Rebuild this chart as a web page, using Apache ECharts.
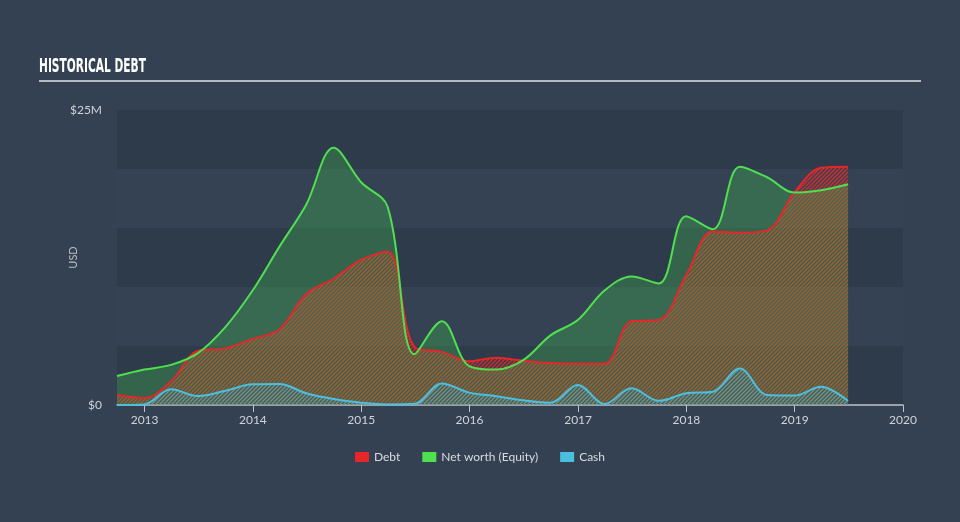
<!DOCTYPE html>
<html>
<head>
<meta charset="utf-8">
<script src="https://cdn.jsdelivr.net/npm/echarts@6/dist/echarts.min.js"></script>
<style>
html,body{margin:0;padding:0;background:#344152;}
#chart{width:960px;height:522px;}
</style>
</head>
<body>
<div id="chart"></div>
<script>
const dates = ['2012-09-30','2012-12-31','2013-03-31','2013-06-30','2013-09-30','2013-12-31',
  '2014-03-31','2014-06-30','2014-09-30','2014-12-31','2015-03-31','2015-06-30','2015-09-30','2015-12-31',
  '2016-03-31','2016-06-30','2016-09-30','2016-12-31','2017-03-31','2017-06-30','2017-09-30','2017-12-31',
  '2018-03-31','2018-06-30','2018-09-30','2018-12-31','2019-03-31','2019-06-30'];
const debt = [0.85,0.6,2.0,4.6,4.8,5.6,6.4,9.4,10.7,12.3,13.0,4.9,4.5,3.7,4.0,3.75,3.55,3.5,3.5,7.1,7.2,11.0,14.7,14.6,14.8,18.0,20.1,20.2];
const equity = [2.45,3.0,3.4,4.4,6.6,9.7,13.4,17.0,21.8,18.9,16.8,4.3,7.1,3.3,3.0,3.8,5.9,7.2,9.7,10.9,10.3,16.0,14.9,20.2,19.3,18.0,18.2,18.7];
const cash = [0.0,0.05,1.33,0.76,1.2,1.75,1.78,0.99,0.5,0.2,0.05,0.1,1.83,1.05,0.75,0.4,0.2,1.7,0.08,1.41,0.35,0.99,1.13,3.1,0.85,0.8,1.55,0.34];
const seriesNames = ['Debt','Net worth (Equity)','Cash'];
const yTickLabels = {0:'$0', 25:'$25M'};

function hatch(color, size, lw) {
  const c = document.createElement('canvas');
  c.width = size; c.height = size;
  const g = c.getContext('2d');
  g.strokeStyle = color; g.lineWidth = lw;
  g.beginPath();
  g.moveTo(0, size); g.lineTo(size, 0);
  g.moveTo(-size/2, size/2); g.lineTo(size/2, -size/2);
  g.moveTo(size/2, size*1.5); g.lineTo(size*1.5, size/2);
  g.stroke();
  return c;
}
const pair = arr => dates.map((d,i)=>[d, arr[i]]);
const YEAR = 365*24*3600*1000;

const chart = echarts.init(document.getElementById('chart'), null, {renderer:'canvas'});
chart.setOption({
  backgroundColor: '#344152',
  animation: false,
  graphic: [
    {type:'line', shape:{x1:39,y1:81,x2:921,y2:81}, style:{stroke:'#b4bac2', lineWidth:2}},
    {type:'text', x:39, y:58, scaleX:0.56, scaleY:1,
      style:{text:'HISTORICAL DEBT', fill:'#ffffff', fontSize:19, fontWeight:'bold',
        fontFamily:'"DejaVu Sans", sans-serif', textVerticalAlign:'top'}}
  ],
  grid: {left:117, right:57, top:110, bottom:117},
  legend: {
    bottom: 54, left: 'center', icon: 'rect', itemWidth: 14, itemHeight: 10, itemGap: 22,
    data: seriesNames,
    textStyle: {color:'#d8dce1', fontSize:12, fontFamily:'Lato, "Open Sans", sans-serif'}
  },
  xAxis: {
    type: 'time',
    min: '2012-09-30', max: '2020-01-01',
    minInterval: YEAR, maxInterval: YEAR*1.01,
    axisLine: {lineStyle:{color:'#bcc2ca', width:1.5}},
    axisTick: {show:true, length:7, lineStyle:{color:'#bcc2ca'}},
    axisLabel: {color:'#d0d4da', fontSize:12, margin:9, showMaxLabel:true, hideOverlap:false,
      formatter: '{yyyy}', fontFamily:'Lato, "Open Sans", sans-serif'},
    splitLine: {show:false}
  },
  yAxis: {
    type: 'value', min: 0, max: 25, interval: 5,
    name: 'USD', nameLocation: 'middle', nameRotate: 90, nameGap: 38, nameMoveOverlap: false,
    nameTextStyle: {color:'#b8bec6', fontSize:11, fontFamily:'Lato, "Open Sans", sans-serif'},
    axisLine: {show:false}, axisTick: {show:false},
    axisLabel: {color:'#cfd3d9', fontSize:12, margin:15, fontFamily:'Lato, "Open Sans", sans-serif',
      formatter: v => (yTickLabels[v] !== undefined ? yTickLabels[v] : '')},
    splitLine: {show:false},
    splitArea: {show:true, areaStyle:{color:['#2e3b4b','#344253']}}
  },
  series: [
    {
      name: seriesNames[0], type:'line', data: pair(debt), smooth:0.35, showSymbol:false,
      itemStyle:{color:'#e8262a'}, lineStyle:{color:'#e8262a', width:2},
      areaStyle:{color:{image: hatch('rgba(232,42,40,0.85)', 4, 1.5), repeat:'repeat'}, opacity:1}
    },
    {
      name: seriesNames[1], type:'line', data: pair(equity), smooth:0.35, showSymbol:false,
      itemStyle:{color:'#4fe04f'}, lineStyle:{color:'#4fe04f', width:2},
      areaStyle:{color:'rgba(70,210,80,0.28)', opacity:1}
    },
    {
      name: seriesNames[2], type:'line', data: pair(cash), smooth:0.35, showSymbol:false,
      itemStyle:{color:'#4bbfe0'}, lineStyle:{color:'#4bbfe0', width:2},
      areaStyle:{color:{image: hatch('rgba(80,175,210,0.6)', 4, 1.4), repeat:'repeat'}, opacity:1}
    }
  ]
});
</script>
</body>
</html>
